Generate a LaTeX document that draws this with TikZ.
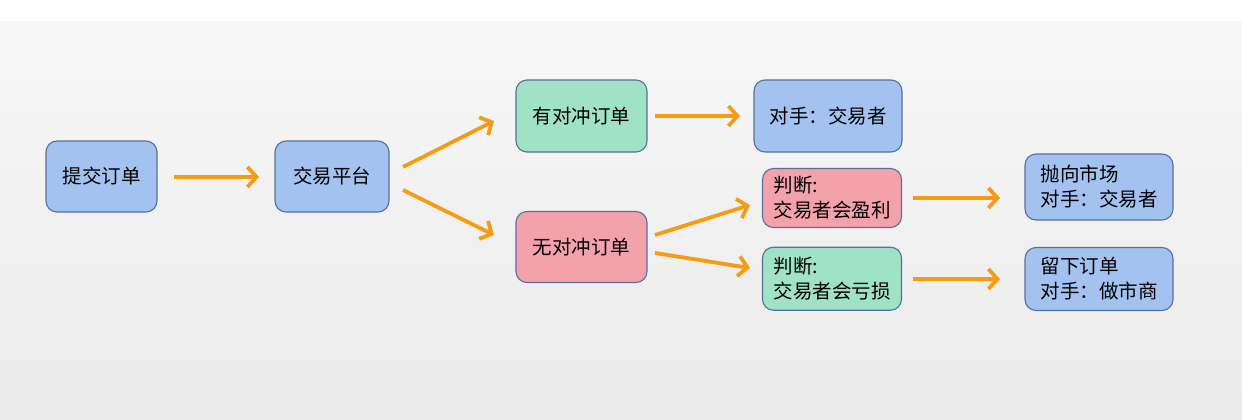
\documentclass[tikz,border=0pt]{standalone}
\usepackage{fontspec}
\newfontfamily\cjk{Noto Sans CJK SC}
\usetikzlibrary{arrows.meta}
\definecolor{bluefill}{HTML}{A4C2F0}
\definecolor{greenfill}{HTML}{A0E2C4}
\definecolor{pinkfill}{HTML}{F3A2AC}
\definecolor{boxline}{HTML}{56709A}
\definecolor{arrowc}{HTML}{F59C14}
\tikzset{
  box/.style={draw=boxline, line width=1.1pt, rounded corners=11pt, inner sep=0pt,
    font=\cjk\fontsize{19.5}{25}\selectfont, align=left, text=black},
  bluebox/.style={box, fill=bluefill},
  greenbox/.style={box, fill=greenfill},
  pinkbox/.style={box, fill=pinkfill},
  flow/.style={draw=arrowc, line width=3.8pt, -{Straight Barb[length=9pt,width=20pt,line width=3.8pt]}},
}
\begin{document}
\begin{tikzpicture}[x=1pt,y=-1pt]
\useasboundingbox (0,0) rectangle (1242,420);
\fill[white] (0,0) rectangle (1242,22);
\shade[top color=white!97!black, bottom color=white!92!black] (0,22) rectangle (1242,420);

\node[bluebox, minimum width=111pt, minimum height=71pt] (submit) at (101.5,176.5) {提交订单};
\node[bluebox, minimum width=114pt, minimum height=71pt] (platform) at (332,176.5) {交易平台};
\node[greenbox, minimum width=131pt, minimum height=72pt] (hedged) at (581.5,116) {有对冲订单};
\node[bluebox, minimum width=148pt, minimum height=72pt] (cpty) at (828,116) {对手：交易者};
\node[pinkbox, minimum width=131pt, minimum height=71pt] (unhedged) at (581.5,247) {无对冲订单};
\node[pinkbox, minimum width=139pt, minimum height=59pt] (profit) at (832,198) {判断:\\交易者会盈利};
\node[greenbox, minimum width=139pt, minimum height=63pt] (loss) at (832,278.7) {判断:\\交易者会亏损};
\node[bluebox, minimum width=148pt, minimum height=66pt] (market) at (1099,187) {抛向市场\\对手：交易者};
\node[bluebox, minimum width=148pt, minimum height=63pt] (keep) at (1099,279) {留下订单\\对手：做市商};

\coordinate (a1s) at (174,177); \coordinate (a1e) at (259,177);
\coordinate (a2s) at (403,167); \coordinate (a2e) at (494,121);
\coordinate (a3s) at (403,190); \coordinate (a3e) at (494,235);
\coordinate (a4s) at (655,116); \coordinate (a4e) at (740,116);
\coordinate (a5s) at (655,235); \coordinate (a5e) at (750,205);
\coordinate (a6s) at (655,253); \coordinate (a6e) at (750,268);
\coordinate (a7s) at (913,198); \coordinate (a7e) at (1000,198);
\coordinate (a8s) at (913,279); \coordinate (a8e) at (1000,279);

\draw[flow] (a1s) -- (a1e);
\draw[flow] (a2s) -- (a2e);
\draw[flow] (a3s) -- (a3e);
\draw[flow] (a4s) -- (a4e);
\draw[flow] (a5s) -- (a5e);
\draw[flow] (a6s) -- (a6e);
\draw[flow] (a7s) -- (a7e);
\draw[flow] (a8s) -- (a8e);
\end{tikzpicture}
\end{document}
